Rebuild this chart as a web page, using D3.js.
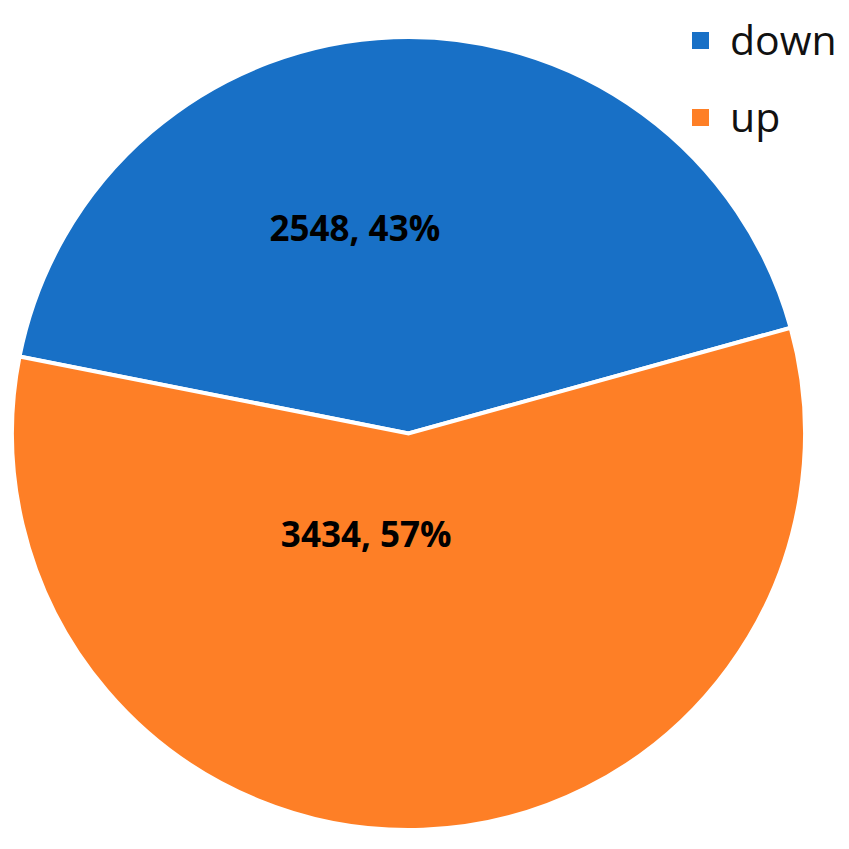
<!DOCTYPE html>
<html><head><meta charset="utf-8">
<script src="https://cdn.jsdelivr.net/npm/d3@7"></script>
<style>html,body{margin:0;padding:0;background:#fff;}svg{display:block;}</style>
</head><body>
<svg id="chart" width="849" height="849"></svg>
<script>
const categories = ["down", "up"];
const values = [2548, 3434];
const colors = ["#1870c6", "#fe7f26"];

const svg = d3.select("#chart");
const cx = 408.5, cy = 433.5, R = 396.5;
const total = d3.sum(values);
const startA = -78.8 * Math.PI / 180;

const pie = d3.pie().sort(null).value(d => d.value)
  .startAngle(startA).endAngle(startA + 2 * Math.PI);
const data = categories.map((c, i) => ({ cat: c, value: values[i], color: colors[i] }));
const arcs = pie(data);
const arc = d3.arc().innerRadius(0).outerRadius(R);

const g = svg.append("g").attr("transform", `translate(${cx},${cy})`);
g.selectAll("path.slice").data(arcs).join("path")
  .attr("class", "slice")
  .attr("d", arc)
  .attr("fill", d => d.data.color)
  .attr("stroke", "#fff")
  .attr("stroke-width", 4)
  .attr("stroke-linejoin", "miter");

// labels
const labelRadii = [206, 100];
g.selectAll("text.lbl").data(arcs).join("text")
  .attr("class", "lbl")
  .attr("transform", (d, i) => {
    const [x, y] = d3.arc().innerRadius(labelRadii[i]).outerRadius(labelRadii[i]).centroid(d);
    return `translate(${x - 46},${y})`;
  })
  .attr("text-anchor", "middle")
  .attr("dominant-baseline", "central")
  .attr("font-family", "'Open Sans', sans-serif")
  .attr("font-weight", "bold")
  .attr("font-size", 35)
  .attr("fill", "#000")
  .text(d => `${d.data.value}, ${Math.round(d.data.value / total * 100)}%`);

// legend
const leg = svg.append("g").attr("transform", "translate(692,32)");
const rows = leg.selectAll("g").data(data).join("g")
  .attr("transform", (d, i) => `translate(0,${i * 77})`);
rows.append("rect").attr("width", 17).attr("height", 17).attr("fill", d => d.color);
rows.append("text").attr("x", 38).attr("y", 23)
  .attr("font-family", "'Open Sans', sans-serif")
  .attr("font-size", 41)
  .attr("fill", "#111")
  .text(d => d.cat);
</script>
</body></html>
